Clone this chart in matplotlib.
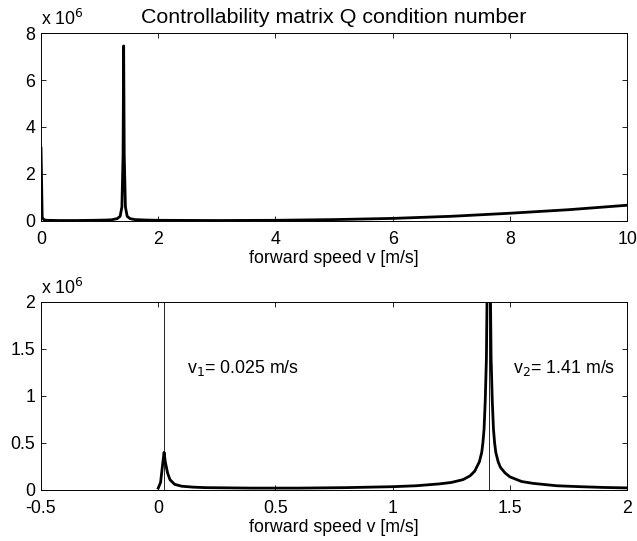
import numpy as np
import matplotlib
matplotlib.use('Agg')
import matplotlib.pyplot as plt
from matplotlib.ticker import FormatStrFormatter

plt.rcParams['font.family'] = ['Liberation Sans', 'DejaVu Sans']
plt.rcParams['font.size'] = 12.8
plt.rcParams['axes.unicode_minus'] = True

# condition number of Q (in units of 1e6) over the whole speed range
v_full = [0.0, 0.02, 0.05, 0.1, 0.3, 0.6, 0.9, 1.1, 1.2, 1.3, 1.35, 1.38, 1.40,
          1.41, 1.42, 1.44, 1.47, 1.52, 1.6, 1.8, 2.0, 3.0, 4.0, 5.0, 6.0,
          7.0, 8.0, 9.0, 10.0]
cond_full = [3.1, 0.15, 0.05, 0.03, 0.02, 0.02, 0.03, 0.04, 0.05, 0.1, 0.2,
             0.6, 2.8, 7.45, 2.8, 0.6, 0.2, 0.1, 0.06, 0.04, 0.03, 0.02,
             0.03, 0.06, 0.11, 0.2, 0.33, 0.48, 0.67]

# finer sweep around the two singular speeds
v_zoom = [0.0, 0.01, 0.02, 0.025, 0.03, 0.04, 0.05, 0.07, 0.1, 0.15, 0.2, 0.4,
          0.6, 0.8, 1.0, 1.1, 1.2, 1.25, 1.3, 1.33, 1.35, 1.37, 1.38, 1.385,
          1.39, 1.395, 1.40, 1.405, 1.41, 1.415, 1.42, 1.425, 1.43, 1.435,
          1.44, 1.45, 1.46, 1.48, 1.5, 1.55, 1.6, 1.7, 1.8, 1.9, 2.0]
cond_zoom = [0.02, 0.08, 0.3, 0.4, 0.3, 0.18, 0.11, 0.06, 0.04, 0.03, 0.025,
             0.02, 0.02, 0.025, 0.035, 0.045, 0.065, 0.08, 0.11, 0.15, 0.2,
             0.3, 0.4, 0.5, 0.65, 0.95, 1.4, 2.6, 7.45, 2.6, 1.4, 0.95, 0.65,
             0.5, 0.4, 0.3, 0.24, 0.18, 0.14, 0.09, 0.07, 0.045, 0.035, 0.027,
             0.022]

v1, v2 = 0.025, 1.41

fig = plt.figure(figsize=(6.37, 5.41), dpi=100)
ax1 = fig.add_axes([0.0644, 0.5915, 0.920, 0.3475])
ax2 = fig.add_axes([0.0644, 0.0943, 0.920, 0.3475])

for ax in (ax1, ax2):
    ax.tick_params(direction='in', top=True, right=True, length=3.5,
                   width=0.6)
    ax.tick_params(axis='x', pad=7.5)
    ax.tick_params(axis='y', pad=4)
    for s in ax.spines.values():
        s.set_linewidth(0.7)
    # exponent shown above the y axis
    ax.text(0, 1.043, r'x 10$^6$', transform=ax.transAxes, ha='left',
            va='baseline')

ax1.plot(v_full, cond_full, color='black', lw=2)
ax1.set_xlim(0, 10)
ax1.set_ylim(0, 8)
ax1.set_xticks([0, 2, 4, 6, 8, 10])
ax1.set_yticks([0, 2, 4, 6, 8])
ax1.set_xlabel('forward speed v [m/s]', labelpad=1)
ax1.set_title('Controllability matrix Q condition number', pad=7.4)

ax2.plot(v_zoom, cond_zoom, color='black', lw=2)
ax2.axvline(v1, color='black', lw=0.6)
ax2.axvline(v2, color='black', lw=0.6)
ax2.set_xlim(-0.5, 2)
ax2.set_ylim(0, 2)
ax2.set_xticks([-0.5, 0, 0.5, 1, 1.5, 2])
ax2.set_yticks([0, 0.5, 1, 1.5, 2])
ax2.xaxis.set_major_formatter(FormatStrFormatter('%g'))
ax2.yaxis.set_major_formatter(FormatStrFormatter('%g'))
ax2.set_xlabel('forward speed v [m/s]', labelpad=1)
ax2.text(0.123, 1.3, r'v$_1$= 0.025 m/s', ha='left', va='center')
ax2.text(1.512, 1.3, r'v$_2$= 1.41 m/s', ha='left', va='center')

fig.savefig('out.png', dpi=100)
